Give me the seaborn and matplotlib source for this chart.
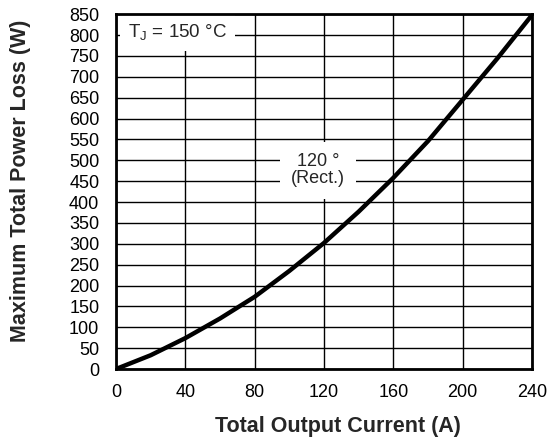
import pandas as pd
import matplotlib.pyplot as plt
import seaborn as sns

# values
current = [0, 20, 40, 60, 80, 100, 120, 140, 160, 180, 200, 220, 240]
power_loss = [0, 33, 74, 121, 173, 235, 302, 377, 458, 546, 645, 744, 848]

x_ticks = [0, 40, 80, 120, 160, 200, 240]
y_ticks = list(range(0, 851, 50))

df = pd.DataFrame({'Current': current, 'Loss': power_loss})

sns.set_style('white')
plt.rcParams['font.family'] = ['Liberation Sans', 'DejaVu Sans']

fig = plt.figure(figsize=(5.48, 4.43), dpi=100)
ax = fig.add_axes([0.2117, 0.167, 0.7591, 0.801])

sns.lineplot(data=df, x='Current', y='Loss', ax=ax, color='black', linewidth=3.2, zorder=5)

ax.set_xlim(0, 240)
ax.set_ylim(0, 850)
ax.set_xticks(x_ticks)
ax.set_yticks(y_ticks)
ax.grid(True, color='black', linewidth=1)
ax.tick_params(axis='both', length=0, labelsize=13, colors='black')
ax.tick_params(axis='x', pad=11)
ax.tick_params(axis='y', pad=12)
for s in ax.spines.values():
    s.set_linewidth(2)
    s.set_color('black')
    s.set_zorder(6)

ax.set_xlabel('Total Output Current (A)', fontsize=15.5, fontweight='bold')
ax.set_ylabel('Maximum Total Power Loss (W)', fontsize=15.5, fontweight='bold')
ax.xaxis.set_label_coords(0.534, -0.133)
ax.yaxis.set_label_coords(-0.205, 0.53)

ax.text(7, 806, r'T$_\mathregular{J}$ = 150 °C', fontsize=13.5, va='center', ha='left',
        bbox=dict(facecolor='white', edgecolor='none', pad=6), zorder=4)
ax.text(116.5, 476, '120 °\n(Rect.)', fontsize=13, va='center', ha='center',
        linespacing=1.0, bbox=dict(facecolor='white', edgecolor='none', pad=8), zorder=4)

plt.savefig('out.png', dpi=100)
